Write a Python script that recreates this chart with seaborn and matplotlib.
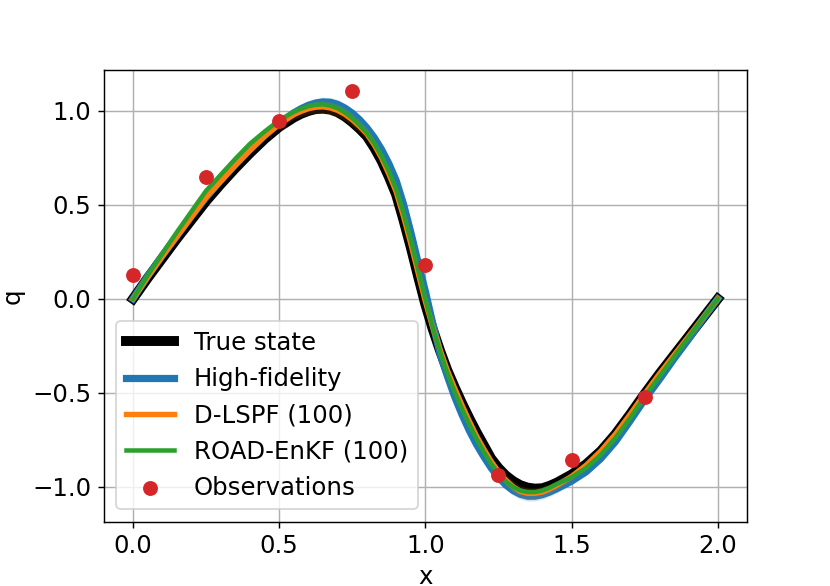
import numpy as np
import pandas as pd
import matplotlib
matplotlib.use("Agg")
import matplotlib.pyplot as plt
import seaborn as sns

# ---- data ----
x_grid = [0.00, 0.05, 0.10, 0.15, 0.20, 0.25, 0.30, 0.35, 0.40, 0.45, 0.50, 0.55,
          0.575, 0.600, 0.625, 0.650, 0.675, 0.700, 0.725, 0.750, 0.775, 0.800, 0.825, 0.850,
          0.875, 0.900, 0.925, 0.950, 0.975, 1.000, 1.025, 1.050, 1.075, 1.100, 1.125, 1.150,
          1.175, 1.200, 1.225, 1.250, 1.275, 1.300, 1.325, 1.350, 1.375, 1.400, 1.425, 1.450,
          1.50, 1.55, 1.60, 1.65, 1.70, 1.75, 1.80, 1.85, 1.90, 1.95, 2.00]

true_state = [0.000, 0.110, 0.215, 0.320, 0.420, 0.520, 0.610, 0.695, 0.775, 0.850, 0.915, 0.965,
              0.985, 1.000, 1.010, 1.012, 1.007, 0.993, 0.970, 0.940, 0.905, 0.865, 0.805, 0.735,
              0.650, 0.555, 0.420, 0.275, 0.120, -0.030, -0.160, -0.275, -0.380, -0.470, -0.555, -0.635,
              -0.710, -0.780, -0.850, -0.900, -0.940, -0.970, -0.992, -1.005, -1.010, -1.008, -0.995, -0.978,
              -0.935, -0.880, -0.810, -0.720, -0.615, -0.505, -0.400, -0.300, -0.200, -0.100, 0.000]

high_fidelity = [0.000, 0.120, 0.230, 0.335, 0.440, 0.540, 0.630, 0.715, 0.795, 0.870, 0.935, 0.990,
                 1.012, 1.030, 1.042, 1.048, 1.046, 1.035, 1.015, 0.988, 0.953, 0.910, 0.858, 0.795,
                 0.720, 0.630, 0.505, 0.355, 0.195, 0.040, -0.130, -0.290, -0.410, -0.520, -0.615, -0.700,
                 -0.775, -0.840, -0.900, -0.950, -0.990, -1.020, -1.040, -1.050, -1.050, -1.042, -1.028, -1.010,
                 -0.970, -0.920, -0.850, -0.760, -0.650, -0.535, -0.430, -0.320, -0.215, -0.105, 0.000]
high_fidelity_spread = [0.004, 0.006, 0.008, 0.010, 0.010, 0.010, 0.012, 0.014, 0.016, 0.018, 0.020, 0.022,
                        0.023, 0.024, 0.025, 0.025, 0.025, 0.025, 0.024, 0.024, 0.023, 0.022, 0.021, 0.020,
                        0.019, 0.018, 0.017, 0.016, 0.015, 0.015, 0.015, 0.016, 0.017, 0.018, 0.019, 0.020,
                        0.021, 0.022, 0.023, 0.024, 0.025, 0.026, 0.026, 0.026, 0.025, 0.024, 0.023, 0.022,
                        0.020, 0.018, 0.016, 0.014, 0.012, 0.010, 0.010, 0.008, 0.006, 0.005, 0.004]

d_lspf = [0.000, 0.115, 0.225, 0.330, 0.435, 0.540, 0.625, 0.710, 0.790, 0.865, 0.930, 0.980,
          0.998, 1.012, 1.020, 1.022, 1.016, 1.003, 0.982, 0.953, 0.918, 0.878, 0.820, 0.750,
          0.665, 0.570, 0.440, 0.295, 0.140, -0.015, -0.150, -0.270, -0.380, -0.475, -0.565, -0.650,
          -0.730, -0.800, -0.865, -0.920, -0.965, -1.000, -1.025, -1.035, -1.035, -1.028, -1.012, -0.992,
          -0.945, -0.885, -0.810, -0.720, -0.615, -0.505, -0.400, -0.300, -0.200, -0.100, 0.000]
d_lspf_spread = [0.005, 0.008, 0.010, 0.010, 0.010, 0.012, 0.014, 0.016, 0.018, 0.020, 0.022, 0.025,
                 0.028, 0.030, 0.031, 0.032, 0.033, 0.034, 0.034, 0.034, 0.033, 0.032, 0.030, 0.028,
                 0.026, 0.024, 0.022, 0.020, 0.018, 0.016, 0.015, 0.015, 0.016, 0.017, 0.018, 0.020,
                 0.022, 0.024, 0.026, 0.028, 0.030, 0.030, 0.030, 0.030, 0.029, 0.028, 0.026, 0.024,
                 0.020, 0.016, 0.014, 0.012, 0.010, 0.010, 0.008, 0.008, 0.006, 0.005, 0.004]

road_enkf = [0.000, 0.125, 0.240, 0.355, 0.465, 0.575, 0.660, 0.745, 0.825, 0.890, 0.950, 0.995,
             1.012, 1.025, 1.033, 1.035, 1.028, 1.015, 0.992, 0.962, 0.925, 0.883, 0.828, 0.760,
             0.680, 0.585, 0.458, 0.315, 0.158, 0.000, -0.150, -0.280, -0.395, -0.495, -0.585, -0.668,
             -0.745, -0.815, -0.878, -0.930, -0.972, -1.002, -1.020, -1.028, -1.028, -1.020, -1.005, -0.985,
             -0.950, -0.900, -0.830, -0.740, -0.635, -0.520, -0.415, -0.310, -0.205, -0.100, 0.000]

obs_x = [0.00, 0.25, 0.50, 0.75, 1.00, 1.25, 1.50, 1.75]
obs_q = [0.128, 0.650, 0.946, 1.107, 0.182, -0.935, -0.855, -0.520]

labels = ["True state", "High-fidelity", "D-LSPF (100)", "ROAD-EnKF (100)", "Observations"]

# ---- figure ----
plt.rcParams["font.size"] = 13.5
fig, ax = plt.subplots(figsize=(830 / 130, 586 / 130), dpi=130)

df = pd.DataFrame({
    "x": x_grid,
    "true": true_state,
    "hf": high_fidelity,
    "hf_sd": high_fidelity_spread,
    "dlspf": d_lspf,
    "dlspf_sd": d_lspf_spread,
    "road": road_enkf,
})

sns.lineplot(data=df, x="x", y="true", color="black", linewidth=5.5,
             label=labels[0], ax=ax, estimator=None, sort=False, zorder=2)
ax.fill_between(df["x"], df["hf"] - df["hf_sd"], df["hf"] + df["hf_sd"],
                color="tab:blue", alpha=0.2, linewidth=0, zorder=2.5)
sns.lineplot(data=df, x="x", y="hf", color="tab:blue", linewidth=4,
             label=labels[1], ax=ax, estimator=None, sort=False, zorder=3)
ax.fill_between(df["x"], df["dlspf"] - df["dlspf_sd"], df["dlspf"] + df["dlspf_sd"],
                color="tab:orange", alpha=0.15, linewidth=0, zorder=3.5)
sns.lineplot(data=df, x="x", y="dlspf", color="tab:orange", linewidth=3,
             label=labels[2], ax=ax, estimator=None, sort=False, zorder=4)
sns.lineplot(data=df, x="x", y="road", color="tab:green", linewidth=2.5,
             label=labels[3], ax=ax, estimator=None, sort=False, zorder=5)
sns.scatterplot(x=obs_x, y=obs_q, color="tab:red", s=68, linewidth=0,
                label=labels[4], ax=ax, zorder=6)

ax.set_xlabel("x")
ax.set_ylabel("q")
ax.grid(True)
ax.set_xticks([0.0, 0.5, 1.0, 1.5, 2.0])
ax.set_yticks([-1.0, -0.5, 0.0, 0.5, 1.0])
ax.legend(loc="lower left", fontsize=13.5)

fig.savefig("out.png", dpi=130)
